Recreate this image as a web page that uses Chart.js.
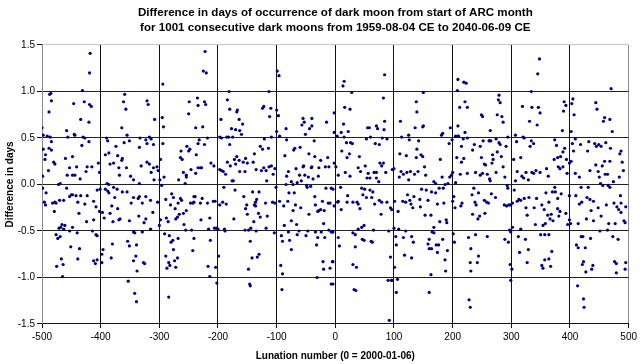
<!DOCTYPE html>
<html><head><meta charset="utf-8">
<script src="https://cdn.jsdelivr.net/npm/chart.js@4.4.1/dist/chart.umd.min.js"></script>
<style>html,body{margin:0;padding:0;background:#fff}#wrap{width:640px;height:364px}</style>
</head><body><div id="wrap"><canvas id="c" width="640" height="364"></canvas></div>
<script>
const chartTitle = ["Difference in days of occurrence of dark moon from start of ARC month",
  "for 1001 consecutive dark moons from 1959-08-04 CE to 2040-06-09 CE"];
const xAxisTitle = "Lunation number (0 = 2000-01-06)";
const yAxisTitle = "Difference in days";
const xTickValues = [-500,-400,-300,-200,-100,0,100,200,300,400,500];
const xTickLabels = ["-500","-400","-300","-200","-100","0","100","200","300","400","500"];
const yTickValues = [-1.5,-1.0,-0.5,0,0.5,1.0,1.5];
const yTickLabels = ["-1.5","-1.0","-0.5","0.0","0.5","1.0","1.5"];

const lunation = [
-418,-419,-431,-485,-487,-484,-446,-428,-419,-416,-488,-434,-420,-500,-458,-445,-444,-498,-491,-486,-456,-430,-427,-484,-420,-432,-498,-488,-494,-484,-495,-480,-478,-460,-448,-453,-441,-423,-415,-489,-425,-457,-448,-444,-499,-435,-472,-469,-499,-458,-406,-493,-453,-450,-448,-442,-434,-423,-470,-463,-496,-494,-482,-478,-476,-439,-427,-412,-408,-479,-437,-412,-424,-466,-461,-471,-468,-463,-448,-453,-440,-414,-476,-473,-469,-408,-451,-436,-467,-439,-464,-475,-412,-409,-406,-465,
-359,-361,-357,-321,-319,-308,-364,-355,-390,-388,-360,-351,-333,-323,-321,-317,-314,-310,-374,-334,-386,-392,-371,-363,-364,-404,-384,-378,-321,-317,-310,-331,-369,-356,-402,-314,-368,-349,-344,-309,-334,-389,-386,-378,-392,-388,-372,-363,-355,-401,-386,-376,-344,-336,-334,-323,-315,-348,-329,-371,-402,-397,-394,-384,-381,-367,-369,-379,-351,-335,-323,-326,-311,-315,-406,-344,-342,-329,-354,-351,-339,-380,-396,-398,-382,-340,-344,-327,-325,-398,-338,-353,-342,-339,
-222,-225,-220,-294,-249,-235,-234,-223,-221,-250,-295,-293,-238,-226,-218,-232,-234,-223,-294,-253,-248,-250,-263,-237,-264,-261,-298,-212,-207,-304,-302,-234,-230,-228,-246,-259,-238,-254,-292,-299,-267,-254,-256,-296,-279,-276,-264,-262,-268,-289,-303,-281,-241,-239,-247,-243,-241,-227,-230,-218,-208,-273,-266,-259,-254,-272,-269,-288,-285,-214,-229,-298,-300,-258,-255,-245,-216,-206,-291,-283,-268,-241,-280,-277,-213,-276,-243,-289,-269,-274,-284,-282,-287,-272,-217,-214,-284,
-181,-113,-184,-180,-168,-167,-124,-122,-110,-112,-195,-164,-158,-177,-170,-163,-160,-197,-194,-185,-182,-175,-121,-109,-180,-128,-124,-114,-138,-168,-172,-164,-184,-153,-157,-150,-140,-170,-179,-197,-194,-191,-187,-163,-154,-135,-126,-122,-118,-113,-109,-106,-176,-174,-117,-190,-171,-156,-141,-130,-134,-136,-205,-197,-192,-186,-151,-153,-138,-119,-107,-150,-136,-131,-128,-116,-139,-173,-118,-203,-200,-189,-188,-154,-148,-144,-135,-145,-199,-204,-130,-133,-142,-148,-202,-146,-145,
-99,-96,-100,-97,-84,-100,-95,-55,-40,-53,-57,-40,-44,-51,-15,-83,-36,-60,-71,-69,-86,-45,-35,-25,-13,-80,-83,-67,-55,-54,-41,-40,-28,-17,-11,-103,-61,-52,-46,-38,-29,-75,-72,-65,-58,-84,-101,-49,-48,-42,-16,-7,-79,-70,-35,-103,-95,-88,-81,-68,-22,-12,-9,-34,-59,-72,-30,-28,-25,-19,-45,-75,-66,-20,-87,-104,-80,-62,-65,-47,-50,-34,-24,-11,-7,-5,-92,-90,-78,-30,-18,-32,-75,-93,-90,-21,-20,-5,-9,-31,-7,-91,
15,13,28,84,82,-2,16,25,14,55,58,70,72,84,83,-2,10,22,3,15,53,60,80,88,68,75,26,29,19,11,24,20,41,-2,1,39,51,76,79,82,43,56,66,70,86,5,17,25,54,59,70,74,-4,9,45,50,59,64,21,47,53,62,5,4,20,30,37,39,67,75,79,88,-2,10,42,78,94,49,45,39,-4,30,34,65,91,5,46,49,61,63,7,34,-4,30,36,94,-4,32,35,90,96,92,
150,138,139,111,136,149,150,181,183,196,194,113,125,126,142,110,121,139,138,146,149,152,179,100,97,112,116,122,128,135,141,109,125,154,182,195,168,171,187,192,177,184,147,155,164,171,123,134,101,115,120,127,129,144,158,174,185,96,107,132,145,153,163,189,178,190,168,100,108,120,165,168,103,116,130,183,160,133,104,172,176,158,160,164,191,174,118,130,187,101,188,163,106,96,104,160,
209,219,223,208,279,278,281,221,212,225,249,251,276,284,286,209,221,264,205,209,210,218,225,252,262,263,265,274,279,281,294,199,215,237,234,247,276,268,291,207,219,215,249,269,283,267,286,254,256,200,198,205,213,225,239,247,251,259,263,264,274,289,293,294,236,202,233,244,266,273,200,204,216,214,238,240,254,258,261,288,292,296,234,246,243,255,201,203,227,239,259,289,295,231,244,230,242,231,228,230,
348,345,334,319,335,346,349,390,393,389,331,344,387,307,320,322,334,338,332,309,374,377,391,388,304,316,373,379,384,394,380,383,388,360,310,318,321,325,329,335,338,342,349,363,307,395,374,370,375,305,359,385,310,313,316,299,302,322,330,343,352,364,379,325,339,356,379,383,393,327,362,368,366,371,381,396,341,354,358,297,302,316,299,312,324,350,357,364,329,369,314,298,327,301,352,354,357,364,367,299,
470,405,403,444,446,407,459,457,468,402,472,409,404,418,432,442,445,449,453,461,469,406,430,485,487,402,399,459,468,489,444,455,434,448,491,409,416,450,460,464,484,452,456,465,468,474,419,431,399,410,429,434,440,486,420,416,462,475,487,480,483,487,495,448,436,453,428,440,399,401,414,466,477,492,494,451,464,419,422,473,435,482,411,414,426,423,421,439,437,427,476,479,495,494,479,413,423,424
];
const difference = [
1.41,1.20,1.01,0.98,0.97,0.90,0.87,0.89,0.86,0.84,0.78,0.70,0.67,0.61,0.58,0.54,0.53,0.53,0.52,0.51,0.51,0.51,0.50,0.46,0.46,0.42,0.38,0.39,0.32,0.37,0.27,0.24,0.22,0.28,0.30,0.18,0.19,0.19,0.19,0.15,0.14,0.10,0.10,0.10,0.09,0.06,0.00,0.01,-0.04,-0.04,-0.06,-0.09,-0.13,-0.11,-0.11,-0.12,-0.12,-0.12,-0.17,-0.17,-0.19,-0.22,-0.20,-0.19,-0.20,-0.19,-0.21,-0.18,-0.24,-0.29,-0.31,-0.38,-0.40,-0.43,-0.44,-0.47,-0.46,-0.48,-0.46,-0.50,-0.52,-0.50,-0.54,-0.58,-0.56,-0.54,-0.67,-0.69,-0.80,-0.80,-0.86,-0.88,-0.82,-0.85,-0.81,-0.99,
0.97,0.89,0.81,0.90,0.86,0.70,0.61,0.53,0.50,0.47,0.45,0.47,0.50,0.48,0.44,0.51,0.49,0.43,0.41,0.40,0.34,0.32,0.31,0.28,0.26,0.23,0.22,0.23,0.24,0.22,0.18,0.20,0.18,0.18,0.13,0.13,0.10,0.09,0.05,0.05,0.01,0.01,0.00,-0.03,-0.05,-0.07,-0.05,-0.08,-0.08,-0.05,-0.09,-0.14,-0.14,-0.15,-0.13,-0.13,-0.17,-0.20,-0.20,-0.26,-0.29,-0.30,-0.36,-0.31,-0.23,-0.37,-0.38,-0.40,-0.39,-0.34,-0.37,-0.41,-0.30,-0.48,-0.55,-0.51,-0.52,-0.51,-0.61,-0.66,-0.65,-0.64,-0.70,-0.75,-0.79,-0.77,-0.82,-0.84,-0.85,-0.84,-0.93,-1.04,-1.17,-1.26,
1.43,1.22,1.20,1.08,0.89,0.93,0.85,0.89,0.86,0.76,0.72,0.62,0.61,0.62,0.50,0.48,0.44,0.43,0.44,0.41,0.38,0.36,0.36,0.32,0.29,0.27,0.27,0.23,0.20,0.19,0.15,0.18,0.18,0.18,0.16,0.13,0.12,0.10,0.08,0.05,0.05,0.08,0.01,-0.01,-0.10,-0.14,-0.15,-0.17,-0.20,-0.16,-0.19,-0.22,-0.13,-0.13,-0.20,-0.20,-0.19,-0.15,-0.20,-0.20,-0.18,-0.26,-0.32,-0.31,-0.28,-0.37,-0.35,-0.36,-0.40,-0.36,-0.38,-0.38,-0.44,-0.43,-0.49,-0.49,-0.48,-0.47,-0.53,-0.55,-0.58,-0.58,-0.62,-0.60,-0.60,-0.70,-0.71,-0.77,-0.79,-0.82,-0.84,-0.87,-0.90,-0.89,-0.88,-0.99,-1.21,
1.00,1.00,0.91,0.81,0.78,0.80,0.82,0.84,0.82,0.73,0.70,0.70,0.65,0.60,0.59,0.58,0.54,0.51,0.50,0.51,0.51,0.51,0.49,0.51,0.43,0.41,0.38,0.39,0.33,0.30,0.27,0.26,0.24,0.28,0.24,0.23,0.24,0.22,0.20,0.16,0.15,0.14,0.11,0.14,0.14,0.16,0.15,0.18,0.15,0.19,0.20,0.11,0.04,0.04,0.04,-0.03,-0.06,-0.13,-0.08,-0.08,-0.16,-0.19,-0.18,-0.22,-0.19,-0.21,-0.22,-0.26,-0.22,-0.20,-0.19,-0.32,-0.23,-0.31,-0.35,-0.34,-0.40,-0.37,-0.47,-0.47,-0.48,-0.48,-0.50,-0.49,-0.49,-0.47,-0.50,-0.61,-0.77,-0.89,-0.75,-0.78,-0.79,-0.91,-1.06,-1.07,-1.09,
1.22,1.17,0.80,0.74,0.60,0.57,0.52,0.71,0.71,0.67,0.64,0.63,0.60,0.54,0.67,0.48,0.47,0.40,0.37,0.39,0.31,0.33,0.30,0.26,0.29,0.14,0.09,0.17,0.19,0.20,0.18,0.19,0.18,0.19,0.19,0.17,0.10,0.10,0.08,0.06,0.09,0.03,0.00,0.02,0.04,0.00,-0.03,-0.01,-0.03,-0.02,-0.04,-0.04,-0.09,-0.09,-0.13,-0.20,-0.18,-0.23,-0.18,-0.22,-0.18,-0.20,-0.20,-0.22,-0.25,-0.28,-0.29,-0.28,-0.27,-0.28,-0.32,-0.39,-0.43,-0.42,-0.44,-0.52,-0.51,-0.50,-0.54,-0.50,-0.55,-0.51,-0.51,-0.49,-0.51,-0.51,-0.55,-0.61,-0.60,-0.57,-0.57,-0.65,-0.70,-0.87,-0.96,-0.83,-0.91,-0.83,-0.90,-1.00,-1.07,-1.13,
1.11,1.06,0.99,1.18,0.93,0.77,0.83,0.81,0.65,0.61,0.61,0.63,0.60,0.68,0.59,0.56,0.56,0.57,0.52,0.51,0.49,0.51,0.50,0.49,0.44,0.43,0.45,0.44,0.45,0.36,0.33,0.29,0.30,0.23,0.19,0.18,0.20,0.23,0.20,0.23,0.14,0.12,0.13,0.13,0.13,0.10,0.13,0.09,0.07,0.07,0.07,0.03,-0.05,-0.03,-0.04,-0.05,-0.06,-0.08,-0.12,-0.11,-0.14,-0.14,-0.18,-0.19,-0.19,-0.19,-0.19,-0.21,-0.21,-0.17,-0.19,-0.19,-0.23,-0.27,-0.26,-0.32,-0.25,-0.44,-0.46,-0.48,-0.51,-0.52,-0.54,-0.49,-0.50,-0.57,-0.59,-0.60,-0.61,-0.62,-0.66,-0.67,-0.83,-0.86,-0.89,-0.78,-1.07,-1.13,-1.14,-1.03,-1.03,-1.46,
0.99,0.89,0.78,0.68,0.61,0.62,0.63,0.53,0.55,0.61,0.44,0.51,0.53,0.48,0.47,0.33,0.31,0.38,0.29,0.32,0.30,0.19,0.27,0.17,0.16,0.14,0.11,0.13,0.14,0.11,0.14,0.08,0.05,0.10,0.08,0.08,0.03,0.01,0.00,0.01,-0.04,-0.04,-0.05,-0.06,-0.08,-0.09,-0.11,-0.13,-0.18,-0.18,-0.19,-0.17,-0.21,-0.16,-0.17,-0.21,-0.20,-0.27,-0.29,-0.25,-0.24,-0.33,-0.33,-0.38,-0.40,-0.41,-0.46,-0.47,-0.48,-0.50,-0.51,-0.52,-0.56,-0.57,-0.56,-0.59,-0.59,-0.62,-0.65,-0.65,-0.65,-0.64,-0.69,-0.69,-0.71,-0.73,-0.76,-0.79,-0.81,-0.89,-0.93,-0.97,-1.02,-1.03,-1.16,-1.16,
1.13,1.10,1.09,1.01,0.96,0.91,0.88,0.89,0.83,0.83,0.75,0.73,0.75,0.73,0.67,0.63,0.56,0.58,0.52,0.52,0.52,0.49,0.50,0.47,0.47,0.47,0.47,0.49,0.45,0.43,0.51,0.48,0.41,0.43,0.37,0.41,0.35,0.32,0.41,0.29,0.28,0.24,0.29,0.27,0.30,0.23,0.19,0.22,0.21,0.13,0.10,0.02,0.11,0.12,0.13,0.10,0.12,0.11,0.06,0.04,0.13,0.08,-0.01,-0.04,-0.04,-0.13,-0.11,-0.09,-0.10,-0.14,-0.18,-0.25,-0.20,-0.23,-0.19,-0.22,-0.17,-0.19,-0.20,-0.22,-0.23,-0.22,-0.32,-0.34,-0.37,-0.31,-0.53,-0.62,-0.57,-0.54,-0.56,-0.59,-0.62,-0.69,-0.77,-0.84,-0.84,-0.93,-1.24,-1.32,
1.35,1.19,1.00,0.84,0.83,0.83,0.77,0.89,0.85,0.79,0.68,0.64,0.58,0.53,0.51,0.50,0.47,0.44,0.41,0.46,0.48,0.42,0.39,0.35,0.27,0.29,0.27,0.29,0.30,0.27,0.19,0.17,0.19,0.17,0.14,0.09,0.07,0.13,0.05,0.13,0.12,0.15,0.13,0.09,0.04,0.12,-0.03,-0.08,-0.08,-0.06,-0.09,-0.10,-0.18,-0.16,-0.17,-0.22,-0.20,-0.15,-0.14,-0.15,-0.22,-0.19,-0.15,-0.25,-0.25,-0.27,-0.26,-0.29,-0.31,-0.33,-0.33,-0.32,-0.37,-0.39,-0.34,-0.43,-0.43,-0.44,-0.42,-0.49,-0.46,-0.48,-0.51,-0.56,-0.59,-0.54,-0.54,-0.54,-0.70,-0.72,-0.73,-0.86,-0.84,-0.91,-0.87,-0.90,-0.81,-0.80,-0.88,-1.03,
1.03,0.92,0.87,0.88,0.81,0.75,0.72,0.68,0.70,0.57,0.57,0.49,0.44,0.43,0.46,0.44,0.41,0.43,0.41,0.45,0.39,0.36,0.36,0.33,0.36,0.25,0.23,0.25,0.25,0.24,0.21,0.20,0.15,0.14,0.15,0.12,0.08,0.08,0.11,0.11,0.08,0.01,-0.01,-0.01,-0.03,0.03,-0.03,-0.03,-0.12,-0.12,-0.14,-0.16,-0.18,-0.12,-0.19,-0.21,-0.22,-0.20,-0.20,-0.24,-0.27,-0.30,-0.24,-0.25,-0.28,-0.34,-0.37,-0.39,-0.38,-0.42,-0.42,-0.42,-0.42,-0.39,-0.41,-0.50,-0.49,-0.56,-0.56,-0.56,-0.58,-0.59,-0.65,-0.68,-0.68,-0.83,-0.86,-0.87,-0.91,-0.94,-0.83,-0.85,-0.84,-0.91,-0.95,-1.09,-1.23,-1.32
];

const FONT = "'Liberation Sans', Arial, sans-serif";
Chart.defaults.font.family = FONT;
Chart.defaults.color = '#000';

const points = lunation.map((l, i) => ({ x: l, y: difference[i] }));
function labelFor(values, labels, v) {
  const i = values.findIndex(t => Math.abs(t - v) < 1e-9);
  return i >= 0 ? labels[i] : '';
}

new Chart(document.getElementById('c'), {
  type: 'scatter',
  data: { datasets: [{
    data: points,
    backgroundColor: '#000080',
    borderColor: '#000080',
    borderWidth: 0,
    pointRadius: 1.6,
    pointHoverRadius: 1.6
  }]},
  options: {
    responsive: false,
    animation: false,
    devicePixelRatio: 1,
    layout: { padding: { left: 0, right: 11, top: 0, bottom: 0 } },
    plugins: {
      legend: { display: false },
      tooltip: { enabled: false },
      title: {
        display: true, text: chartTitle, fullSize: false, color: '#000',
        font: { family: FONT, size: 11.6, weight: 'bold', lineHeight: 1.293 },
        padding: { top: 5, bottom: 10 }
      }
    },
    scales: {
      x: {
        type: 'linear', min: -500, max: 500,
        afterBuildTicks: s => { s.ticks = xTickValues.map(v => ({ value: v })); },
        afterFit: s => { s.height = 40; },
        ticks: { callback: v => labelFor(xTickValues, xTickLabels, v), color: '#000',
                 font: { family: FONT, size: 10 }, padding: 3, maxRotation: 0, autoSkip: false },
        grid: { color: c => (c.tick && (c.tick.value === -500 || c.tick.value === 500)) ? '#8a8a8a' : '#111',
                tickColor: '#111', tickLength: 4, lineWidth: 1 },
        border: { color: '#111', width: 1 },
        title: { display: true, text: xAxisTitle, color: '#000',
                 font: { family: FONT, size: 10, weight: 'bold' }, padding: { top: 4, bottom: 2 } }
      },
      y: {
        type: 'linear', min: -1.5, max: 1.5,
        afterBuildTicks: s => { s.ticks = yTickValues.map(v => ({ value: v })); },
        afterFit: s => { s.width = 42; },
        ticks: { callback: v => labelFor(yTickValues, yTickLabels, v), color: '#000',
                 font: { family: FONT, size: 10 }, padding: 2, autoSkip: false },
        grid: { color: c => (c.tick && c.tick.value === 1.5) ? '#c8c8c8' : '#222',
                tickColor: '#111', tickLength: 5, lineWidth: 1 },
        border: { color: '#8a8a8a', width: 1 },
        title: { display: true, text: yAxisTitle, color: '#000',
                 font: { family: FONT, size: 10, weight: 'bold' }, padding: { top: 4, bottom: 4 } }
      }
    }
  }
});
</script>
</body></html>
